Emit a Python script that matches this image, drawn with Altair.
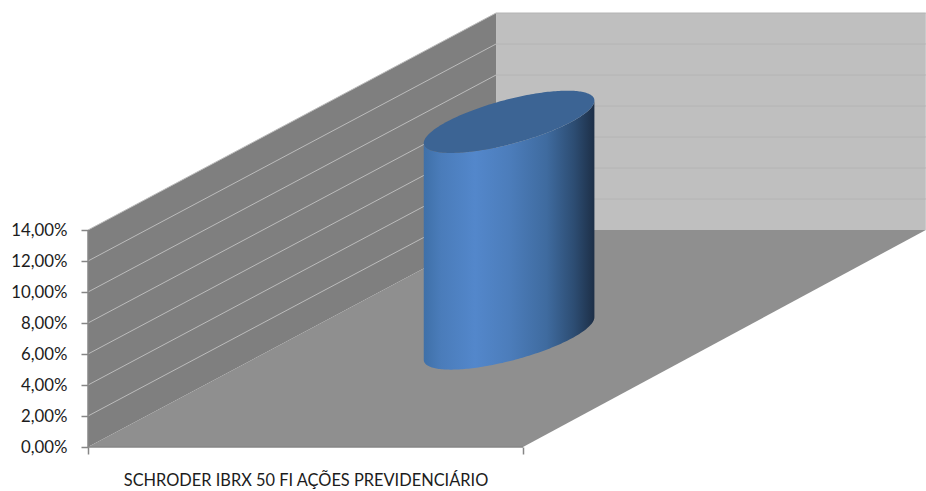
import numpy as np
import pandas as pd
import altair as alt

# Series and axis content
category = "SCHRODER IBRX 50 FI AÇÕES PREVIDENCIÁRIO"
value = 13.98
y_ticks = [0, 2, 4, 6, 8, 10, 12, 14]
wall_top = 14

# Oblique projection of the 3D box: depth shifts a point right and up
DEPTH_X_LEFT = 0.938
DEPTH_X_RIGHT = 0.926
DEPTH_Y = 14.0
RADIUS = 0.1435
BAR_CENTER = 0.502


def px(u, d):
    return u + d * (DEPTH_X_LEFT + (DEPTH_X_RIGHT - DEPTH_X_LEFT) * u)


def py(v, d):
    return v + d * DEPTH_Y


FONT = "Lato"
AXIS_COLOR = "#868686"
TEXT_COLOR = "#1c1c1c"

x_enc = alt.X(
    "x:Q",
    scale=alt.Scale(domain=[0, 838 / 435], nice=False, zero=False),
    axis=alt.Axis(
        values=[0, 0.5, 1],
        title=None,
        grid=False,
        domain=False,
        tickSize=7,
        tickWidth=1.5,
        tickColor=AXIS_COLOR,
        tickOpacity={"condition": {"test": "datum.value == 0.5", "value": 0}, "value": 1},
        labelExpr=f"datum.value == 0.5 ? '{category}' : ''",
        labelFont=FONT,
        labelFontSize=16.4,
        labelColor=TEXT_COLOR,
        labelPadding=18,
        labelLimit=600,
        labelOverlap=False,
        labelBound=False,
        labelFlush=False,
    ),
)
y_enc = alt.Y(
    "y:Q",
    scale=alt.Scale(domain=[0, 447 / 15.5], nice=False, zero=False),
    axis=alt.Axis(
        values=y_ticks,
        title=None,
        grid=False,
        domain=False,
        tickSize=7,
        tickWidth=1.5,
        tickColor=AXIS_COLOR,
        labelExpr="replace(format(datum.value, '.2f'), '.', ',') + '%'",
        labelFont=FONT,
        labelFontSize=16.8,
        labelColor=TEXT_COLOR,
        labelPadding=14,
        labelOverlap=False,
        labelBound=False,
    ),
)


def band(rows, color):
    df = pd.DataFrame(rows, columns=["x", "y", "y2"])
    return alt.Chart(df).mark_area(color=color, orient="vertical", opacity=1).encode(
        x=x_enc, y=y_enc, y2=alt.Y2("y2:Q")
    )


# Back wall, side wall and floor
xb0, xb1 = px(0, 1), px(1, 1)
back = band([[xb0, py(wall_top, 1), py(0, 1)], [xb1, py(wall_top, 1), py(0, 1)]], "#bfbfbf")
side = band([[0, wall_top, 0], [xb0, py(wall_top, 1), py(0, 1)]], "#7f7f7f")
floor = band(
    [
        [0, 0, 0],
        [xb0, py(0, 1), 0],
        [1, py(0, 1), 0],
        [xb1, py(0, 1), py(0, 1)],
    ],
    "#8f8f8f",
)

# Gridlines running along the side wall and across the back wall
side_rows, back_rows = [], []
for t in y_ticks[1:]:
    side_rows += [{"x": 0, "y": t, "g": t}, {"x": xb0, "y": py(t, 1), "g": t}]
    back_rows += [{"x": xb0, "y": py(t, 1), "g": t}, {"x": xb1, "y": py(t, 1), "g": t}]
side_grid = alt.Chart(pd.DataFrame(side_rows)).mark_line(color="#bcbcbc", strokeWidth=1).encode(
    x=x_enc, y=y_enc, detail="g:N"
)
back_grid = alt.Chart(pd.DataFrame(back_rows)).mark_line(color="#b4b4b4", strokeWidth=1).encode(
    x=x_enc, y=y_enc, detail="g:N"
)

# Axis lines at the front of the box
axis_y = alt.Chart(pd.DataFrame({"x": [0], "y": [0], "y2": [wall_top]})).mark_rule(
    color=AXIS_COLOR, strokeWidth=1.5
).encode(x=x_enc, y=y_enc, y2=alt.Y2("y2:Q"))
axis_x = alt.Chart(pd.DataFrame({"x": [0], "x2": [1], "y": [0]})).mark_rule(
    color=AXIS_COLOR, strokeWidth=1.5
).encode(x=x_enc, x2=alt.X2("x2:Q"), y=y_enc)

# Cylinder: a circle on the floor plane, sampled across its horizontal extent
cx, cy = px(BAR_CENTER, 0.5), py(0, 0.5)
A = RADIUS
B = RADIUS * (DEPTH_X_LEFT + (DEPTH_X_RIGHT - DEPTH_X_LEFT) * 0.5)
D = RADIUS * DEPTH_Y
S = np.hypot(A, B)
t0 = np.arctan2(B, A)
phi = np.linspace(np.pi, 0, 121)
xs = cx + S * np.cos(phi)
upper = cy + D * np.sin(t0 + phi)
lower = cy + D * np.sin(t0 - phi)

body_df = pd.DataFrame({"x": xs, "y": lower + value, "y2": lower})
body = alt.Chart(body_df).mark_area(
    orient="vertical",
    color=alt.Gradient(
        gradient="linear",
        x1=0, x2=1, y1=0, y2=0,
        stops=[
            alt.GradientStop(offset=0.0, color="#3f70a8"),
            alt.GradientStop(offset=0.10, color="#4a7cba"),
            alt.GradientStop(offset=0.30, color="#5387cb"),
            alt.GradientStop(offset=0.50, color="#4c7dbb"),
            alt.GradientStop(offset=0.72, color="#3f6b9f"),
            alt.GradientStop(offset=0.88, color="#2d4d73"),
            alt.GradientStop(offset=1.0, color="#1d2f47"),
        ],
    ),
).encode(x=x_enc, y=y_enc, y2=alt.Y2("y2:Q"))

top_df = pd.DataFrame({"x": xs, "y": upper + value, "y2": lower + value})
top = alt.Chart(top_df).mark_area(orient="vertical", color="#3c6494").encode(
    x=x_enc, y=y_enc, y2=alt.Y2("y2:Q")
)

chart = (
    alt.layer(back, side, floor, side_grid, back_grid, axis_y, axis_x, body, top)
    .properties(
        width=838,
        height=447,
        padding={"left": 88, "top": 0, "right": 0, "bottom": 44},
        autosize=alt.AutoSizeParams(type="none"),
        background="white",
    )
    .configure_view(stroke=None)
)

chart.save("out.html", embed_options={"renderer": "svg", "actions": False})
